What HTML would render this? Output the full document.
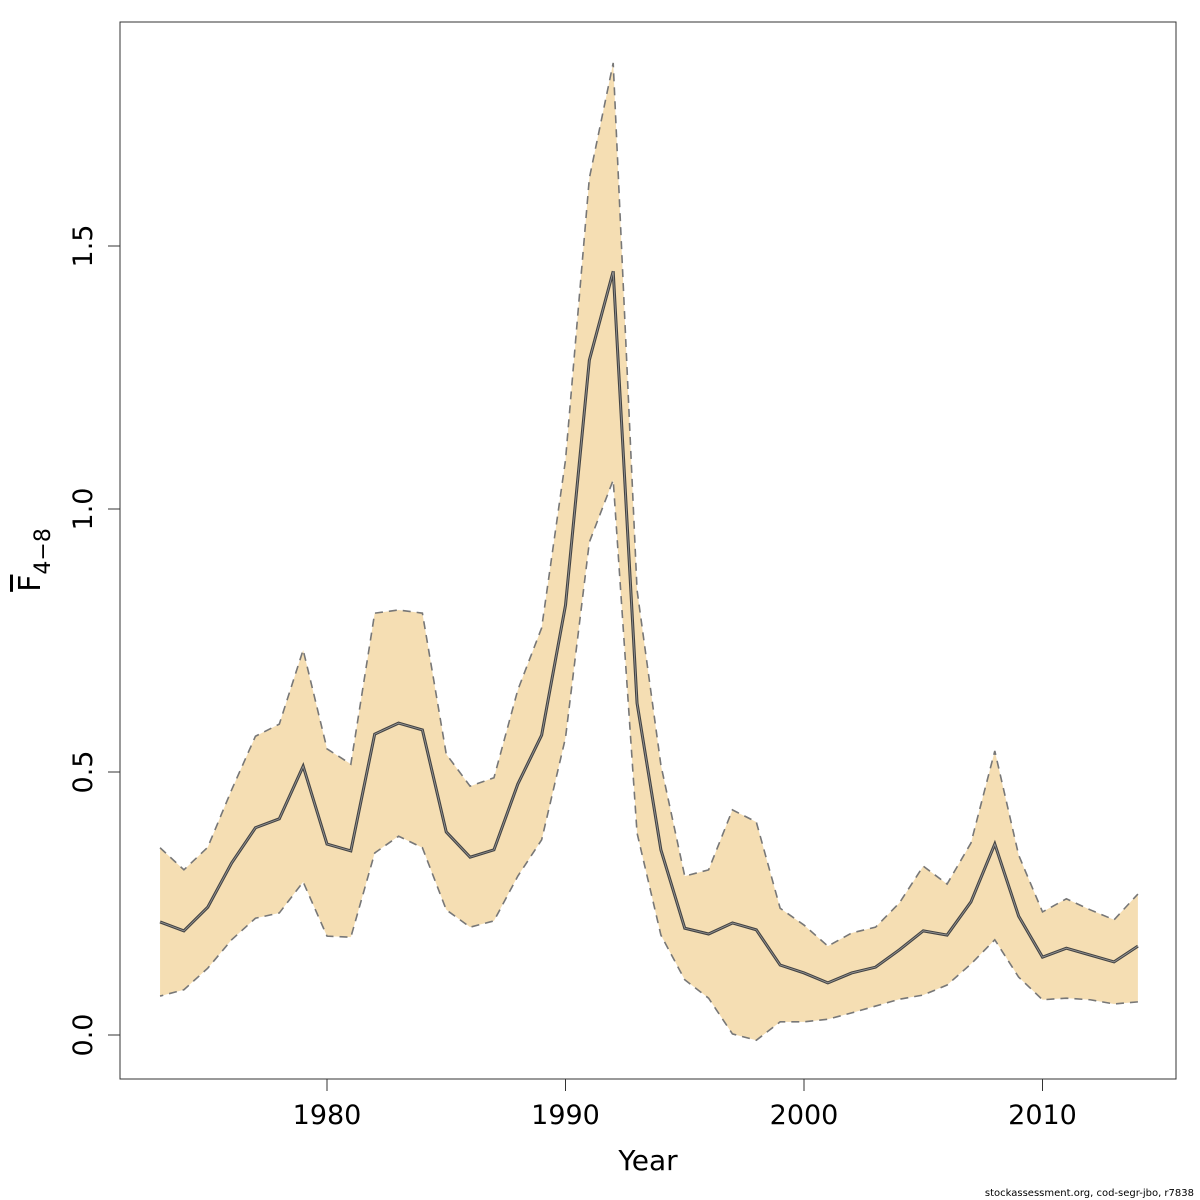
<!DOCTYPE html>
<html><head><meta charset="utf-8"><style>
html,body{margin:0;padding:0;background:#fff;}
svg{display:block;font-family:"DejaVu Sans","Liberation Sans",sans-serif;}
</style></head><body>
<svg id="chart" width="1200" height="1200" viewBox="0 0 1200 1200">
<rect x="120" y="22" width="1056" height="1057" fill="none" stroke="#333" stroke-width="1"/>
<g id="marks"></g>
<g id="axes"></g>
<text x="648" y="1170" font-size="28" text-anchor="middle">Year</text>
<g transform="translate(40,560) rotate(-90)">
<text x="0" y="0" font-size="30" text-anchor="middle"><tspan text-decoration="overline">F</tspan><tspan font-size="22" dy="10">4−8</tspan></text>
</g>
<text x="1194" y="1196" font-size="10" text-anchor="end">stockassessment.org, cod-segr-jbo, r7838</text>
</svg>
<script>
const years=[1973,1974,1975,1976,1977,1978,1979,1980,1981,1982,1983,1984,1985,1986,1987,1988,1989,1990,1991,1992,1993,1994,1995,1996,1997,1998,1999,2000,2001,2002,2003,2004,2005,2006,2007,2008,2009,2010,2011,2012,2013,2014];
const fbar=[0.215,0.198,0.243,0.327,0.394,0.411,0.511,0.363,0.350,0.572,0.593,0.580,0.386,0.338,0.352,0.477,0.570,0.817,1.283,1.452,0.631,0.352,0.203,0.192,0.213,0.200,0.133,0.118,0.099,0.118,0.129,0.162,0.198,0.190,0.253,0.363,0.226,0.148,0.165,0.152,0.139,0.169];
const upper=[0.356,0.314,0.357,0.466,0.568,0.591,0.732,0.544,0.515,0.802,0.808,0.802,0.534,0.473,0.489,0.656,0.774,1.093,1.629,1.848,0.846,0.513,0.302,0.314,0.428,0.405,0.241,0.209,0.169,0.194,0.205,0.251,0.321,0.287,0.365,0.540,0.342,0.234,0.259,0.238,0.219,0.268];
const lower=[0.074,0.086,0.127,0.181,0.222,0.232,0.291,0.188,0.186,0.346,0.378,0.356,0.238,0.205,0.217,0.302,0.371,0.565,0.937,1.055,0.384,0.190,0.105,0.070,0.002,-0.010,0.025,0.025,0.030,0.042,0.055,0.068,0.076,0.095,0.135,0.181,0.110,0.067,0.070,0.067,0.059,0.063];
const xTicks=[1980,1990,2000,2010];
const yTicks=[0,0.5,1.0,1.5];
const yTickLabels=["0.0","0.5","1.0","1.5"];

const NS="http://www.w3.org/2000/svg";
const X=v=>327+(v-1980)*23.85;
const Y=v=>1035-v*526;
const marks=document.getElementById('marks');
const axes=document.getElementById('axes');
function mk(tag,attrs,parent){const e=document.createElementNS(NS,tag);for(const k in attrs)e.setAttribute(k,attrs[k]);parent.appendChild(e);return e;}
const up=years.map((y,i)=>X(y)+','+Y(upper[i]));
const lo=years.map((y,i)=>X(y)+','+Y(lower[i])).reverse();
const band=mk('polygon',{points:up.concat(lo).join(' '),fill:'#f5deb3',stroke:'none'},marks);


const ul=mk('polyline',{points:up.join(' '),fill:'none',stroke:'#777','stroke-width':1.6,'stroke-dasharray':'8,6'},marks);


const ll=mk('polyline',{points:lo.join(' '),fill:'none',stroke:'#777','stroke-width':1.6,'stroke-dasharray':'8,6'},marks);


const ml=mk('polyline',{points:years.map((y,i)=>X(y)+','+Y(fbar[i])).join(' '),fill:'none',stroke:'#444','stroke-width':3},marks);


const mli=mk('polyline',{points:years.map((y,i)=>X(y)+','+Y(fbar[i])).join(' '),fill:'none',stroke:'#999','stroke-width':0.8},marks);


xTicks.forEach(t=>{
  const l=mk('line',{x1:X(t),x2:X(t),y1:1079,y2:1091,stroke:'#333'},axes);
  
  
  const tx=mk('text',{x:X(t),y:1124,'font-size':27,'text-anchor':'middle'},axes);
  tx.textContent=t;
  
  
});
yTicks.forEach((t,i)=>{
  const l=mk('line',{x1:108,x2:120,y1:Y(t),y2:Y(t),stroke:'#333'},axes);
  
  
  const tx=mk('text',{x:0,y:0,'font-size':27,'text-anchor':'middle',transform:'translate(92,'+Y(t)+') rotate(-90)'},axes);
  tx.textContent=yTickLabels[i];
  
  
});
</script>
</body></html>
